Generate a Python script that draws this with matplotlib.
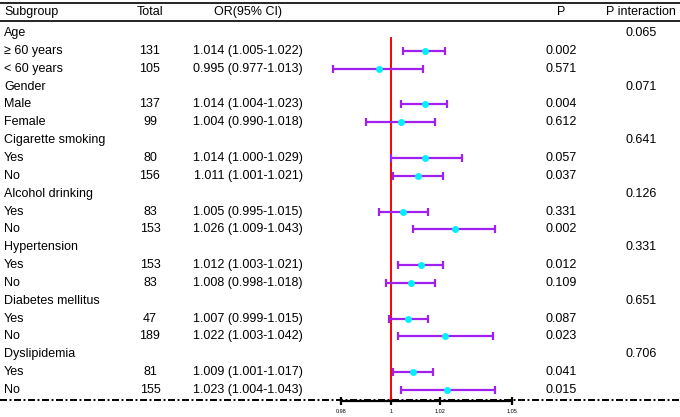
import numpy as np
import matplotlib
matplotlib.use("Agg")
import matplotlib.pyplot as plt
from matplotlib.transforms import blended_transform_factory
from matplotlib.ticker import NullLocator

plt.rcParams['font.family'] = ['Liberation Sans', 'DejaVu Sans']

# table rows (None = section heading row)
subgroups = ["Age", "\u2265 60 years", "< 60 years",
             "Gender", "Male", "Female",
             "Cigarette smoking", "Yes", "No",
             "Alcohol drinking", "Yes", "No",
             "Hypertension", "Yes", "No",
             "Diabetes mellitus", "Yes", "No",
             "Dyslipidemia", "Yes", "No"]
totals = [None, 131, 105, None, 137, 99, None, 80, 156, None, 83, 153,
          None, 153, 83, None, 47, 189, None, 81, 155]
or_est = [None, 1.014, 0.995, None, 1.014, 1.004, None, 1.014, 1.011,
          None, 1.005, 1.026, None, 1.012, 1.008, None, 1.007, 1.022,
          None, 1.009, 1.023]
or_low = [None, 1.005, 0.977, None, 1.004, 0.990, None, 1.000, 1.001,
          None, 0.995, 1.009, None, 1.003, 0.998, None, 0.999, 1.003,
          None, 1.001, 1.004]
or_high = [None, 1.022, 1.013, None, 1.023, 1.018, None, 1.029, 1.021,
           None, 1.015, 1.043, None, 1.021, 1.018, None, 1.015, 1.042,
           None, 1.017, 1.043]
p_vals = [None, "0.002", "0.571", None, "0.004", "0.612", None, "0.057", "0.037",
          None, "0.331", "0.002", None, "0.012", "0.109", None, "0.087", "0.023",
          None, "0.041", "0.015"]
p_inter = ["0.065", None, None, "0.071", None, None, "0.641", None, None,
           "0.126", None, None, "0.331", None, None, "0.651", None, None,
           "0.706", None, None]
x_ticks = [0.98, 1, 1.02, 1.05]
x_tick_labels = ["0.98", "1", "1.02", "1.05"]

W, H = 680, 417
fig = plt.figure(figsize=(W / 100, H / 100), dpi=100)
ax = fig.add_axes([0, 0, 1, 1])
ax.set_xscale('log')
ax.set_xlim(np.exp(-391 / 2480), np.exp(289 / 2480))
ax.set_ylim(21.51, -1.849)
for s in ['top', 'left', 'right']:
    ax.spines[s].set_visible(False)
ax.patch.set_visible(False)

tr = blended_transform_factory(ax.transAxes, ax.transData)
fs = 9
header_y = -1.16

def col(px):
    return px / W

# header
ax.text(col(4), header_y, "Subgroup", transform=tr, fontsize=fs, va='center', ha='left')
ax.text(col(150), header_y, "Total", transform=tr, fontsize=fs, va='center', ha='center')
ax.text(col(248), header_y, "OR(95% CI)", transform=tr, fontsize=fs, va='center', ha='center')
ax.text(col(561), header_y, "P", transform=tr, fontsize=fs, va='center', ha='center')
ax.text(col(641), header_y, "P interaction", transform=tr, fontsize=fs, va='center', ha='center')
ax.plot([0, 1], [-1.68, -1.68], transform=tr, color='black', lw=1.2, clip_on=False)
ax.plot([0, 1], [-0.67, -0.67], transform=tr, color='black', lw=1.2, clip_on=False)

rows = np.arange(len(subgroups))
for i in rows:
    ax.text(col(4), i, subgroups[i], transform=tr, fontsize=fs, va='center', ha='left')
    if totals[i] is not None:
        ax.text(col(150), i, str(totals[i]), transform=tr, fontsize=fs, va='center', ha='center')
        ax.text(col(248), i, "%.3f (%.3f-%.3f)" % (or_est[i], or_low[i], or_high[i]),
                transform=tr, fontsize=fs, va='center', ha='center')
        ax.text(col(561), i, p_vals[i], transform=tr, fontsize=fs, va='center', ha='center')
    if p_inter[i] is not None:
        ax.text(col(641), i, p_inter[i], transform=tr, fontsize=fs, va='center', ha='center')

# reference line
axis_y = 20.59
ax.plot([1, 1], [0.28, axis_y], color='#FF0000', lw=1.4, zorder=2)

# forest
idx = [i for i in rows if or_est[i] is not None]
est = np.array([or_est[i] for i in idx])
lo = np.array([or_low[i] for i in idx])
hi = np.array([or_high[i] for i in idx])
ax.errorbar(est, idx, xerr=[est - lo, hi - est], fmt='none', ecolor='#A020F0',
            elinewidth=1.6, capsize=3.2, capthick=1.6, zorder=3)
ax.plot(est, idx, 'o', color='#00F0FF', markersize=5, markeredgewidth=0, zorder=4)

# bottom dash-dot line and axis
ax.plot([0, 1], [20.56, 20.56], transform=tr, color='black', lw=1.4,
        linestyle=(0, (3.6, 1.3, 1, 1.3)), clip_on=False, zorder=1)
ax.spines['bottom'].set_position(('data', axis_y))
ax.spines['bottom'].set_bounds(0.98, 1.05)
ax.spines['bottom'].set_linewidth(1.6)
ax.xaxis.set_minor_locator(NullLocator())
ax.set_xticks(x_ticks)
ax.set_xticklabels(x_tick_labels)
ax.tick_params(axis='x', direction='inout', length=6, width=1.6, labelsize=4, pad=3)
ax.set_yticks([])

fig.savefig("out.png", dpi=100)
